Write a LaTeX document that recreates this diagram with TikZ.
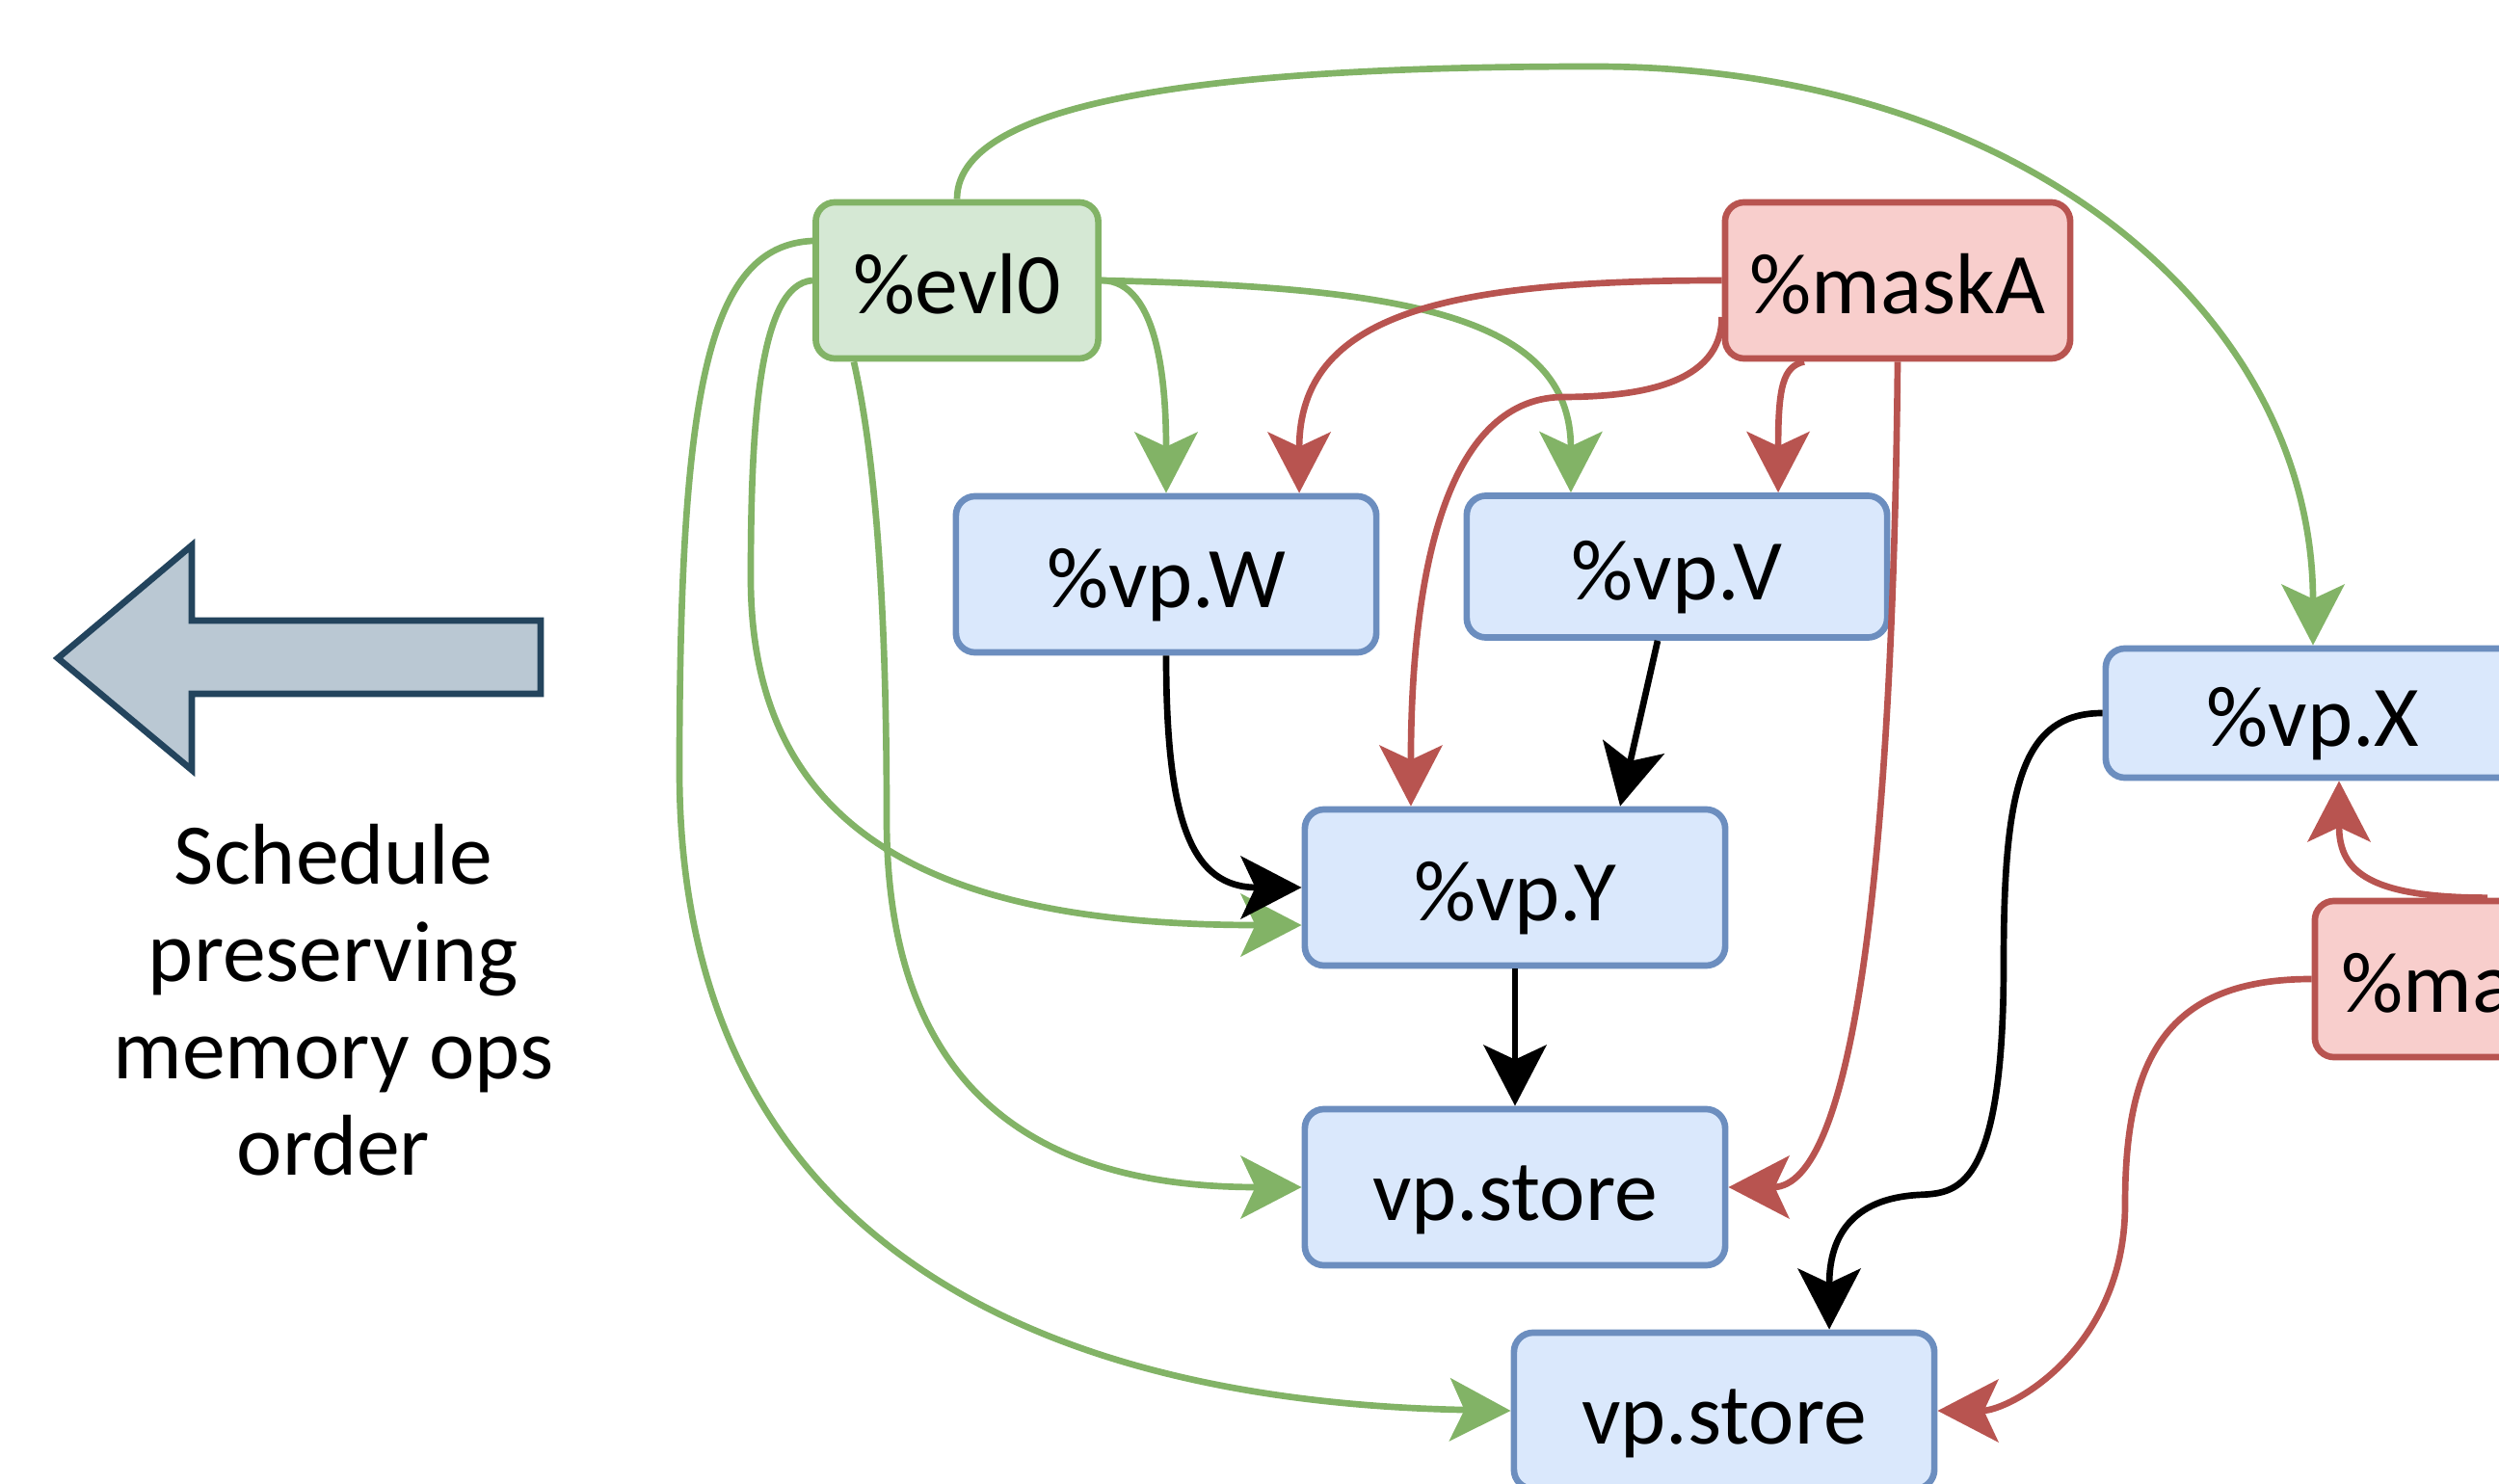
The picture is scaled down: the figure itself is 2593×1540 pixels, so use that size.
\documentclass[tikz,border=0pt]{standalone}
\usepackage{fontspec}
\setmainfont{Carlito}
\usetikzlibrary{arrows.meta}

\definecolor{vpfill}{HTML}{DAE8FC}
\definecolor{vpline}{HTML}{6C8EBF}
\definecolor{evfill}{HTML}{D5E8D4}
\definecolor{evline}{HTML}{82B366}
\definecolor{mkfill}{HTML}{F8CECC}
\definecolor{mkline}{HTML}{B85450}
\definecolor{arfill}{HTML}{BAC8D3}
\definecolor{arline}{HTML}{23445D}

\begin{document}
\begin{tikzpicture}[x=0.01cm, y=-0.01cm,
  op/.style={draw, rounded corners=0.2cm, line width=1.9pt, inner sep=0pt,
    minimum height=1.62cm, font=\fontsize{25.5}{30}\selectfont,
    text height=0.89cm, text depth=0.2cm},
  vec/.style={op, draw=vpline, fill=vpfill, minimum width=4.36cm},
  evl/.style={op, draw=evline, fill=evfill, minimum width=2.93cm},
  msk/.style={op, draw=mkline, fill=mkfill, minimum width=3.58cm},
  dep/.style={draw, line width=1.9pt, -{Stealth[length=0.63cm, width=0.65cm, inset=0.15cm]}}]
\clip (0,0) rectangle (2593,1540);

\node[evl] (e) at (993,291) {\%evl0};
\node[msk] (mA) at (1969,291) {\%maskA};
\node[vec] (W) at (1210,596) {\%vp.W};
\node[vec, minimum height=1.47cm] (V) at (1740,588) {\%vp.V};
\node[vec, minimum height=1.34cm, minimum width=4.3cm] (X) at (2400,740) {\%vp.X};
\node[vec] (Y) at (1572,921) {\%vp.Y};
\node[vec] (s1) at (1572,1232) {vp.store};
\node[vec] (s2) at (1789,1464) {vp.store};
\node[msk] (mB) at (2581,1016) {\%maskB};

% schedule direction
\draw[line width=1.9pt, draw=arline, fill=arfill] (561,644) -- (199,644) -- (199,566)
  -- (60,683) -- (199,799) -- (199,720) -- (561,720) -- cycle;
\node[align=center, font=\fontsize{25.5}{28.65}\selectfont] (note) at (346,1038)
  {Schedule\\preserving\\memory ops\\order};

% uses of %evl0
\path[dep, evline] (e.north) .. controls +(0,-110) and +(-354,0) .. (1654,69)
  .. controls +(446,0) and +(0,-343) .. (X.north);
\path[dep, evline] (e.east) .. controls +(60,0) and +(0,-110) .. (W.north);
\path[dep, evline] (e.east) .. controls +(310,7) and +(0,-185) .. ([xshift=-1.1cm]V.north);
\path[dep, evline] ([yshift=0.41cm]e.west) .. controls +(-107,5) and +(0,-400) .. (705,800)
  .. controls +(0,500) and +(-471,-9) .. (s2.west);
\path[dep, evline] (e.west) .. controls +(-57,4) and +(0,-150) .. (779,600)
  .. controls +(0,280) and +(-354,0) .. ([yshift=-0.39cm]Y.west);
\path[dep, evline] ([xshift=-1.07cm]e.south) .. controls +(29,128) and +(0,-150) .. (920,850)
  .. controls +(0,300) and +(-254,0) .. (s1.west);

% uses of the masks
\path[dep, mkline] (mA.west) .. controls +(-290,0) and +(0,-185) .. ([xshift=1.38cm]W.north);
\path[dep, mkline] ([yshift=-0.38cm]mA.west) .. controls +(0,70) and +(80,0) .. (1620,412)
  .. controls +(-120,3) and +(0,-240) .. ([xshift=-1.08cm]Y.north);
\path[dep, mkline] ([xshift=-0.97cm]mA.south) .. controls +(-22,5) and +(0,-110) .. ([xshift=1.05cm]V.north);
\path[dep, mkline] (mA.south) .. controls +(-5,528) and +(129,0) .. (s1.east);
\path[dep, mkline] (mB.north) .. controls +(-130,0) and +(0,90) .. ([xshift=0.27cm]X.south);
\path[dep, mkline] (mB.west) .. controls +(-152,0) and +(0,-150) .. (2205,1250)
  .. controls +(0,150) and +(75,0) .. (s2.east);

% data flow
\path[dep] (W.south) .. controls +(0,173) and +(-114,0) .. (Y.west);
\path[dep] ([xshift=-0.2cm]V.south) -- ([xshift=1.09cm]Y.north);
\path[dep] (Y.south) -- (s1.north);
\path[dep] (X.west) .. controls +(-85,0) and +(0,-180) .. (2079,1000)
  .. controls +(0,240) and +(39,-2) .. (1990,1240)
  .. controls +(-80,5) and +(0,-83) .. ([xshift=1.09cm]s2.north);
\end{tikzpicture}
\end{document}
